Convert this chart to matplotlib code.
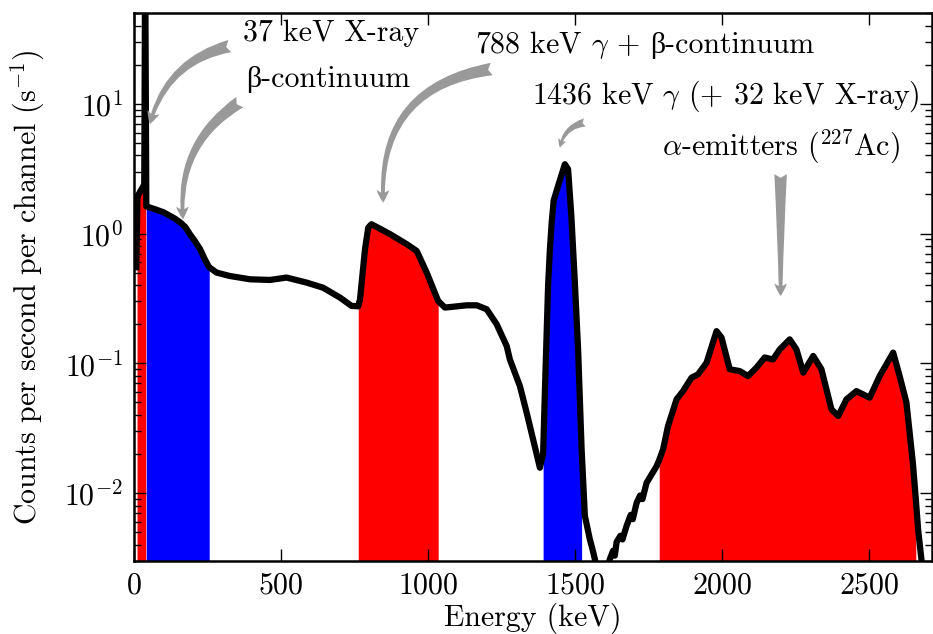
import matplotlib
matplotlib.use('Agg')
import matplotlib.pyplot as plt
from matplotlib.offsetbox import TextArea, HPacker, AnnotationBbox
import numpy as np

# spectrum (keV, counts/s/channel)
energy_kev = [8, 11, 12, 14, 30, 35, 38, 42, 71, 100, 122, 140, 157, 175, 190, 208, 225, 240, 253, 256,
              281, 326, 395, 463, 519, 587, 643, 701, 740, 763,
              769, 786, 797, 808, 871, 928, 962, 996, 1035,
              1058, 1086, 1132, 1166, 1200, 1234, 1268, 1279, 1313, 1336, 1358, 1381,
              1392, 1398, 1404, 1409, 1415, 1421, 1428, 1443, 1466, 1477, 1488, 1500, 1511, 1523,
              1534, 1551, 1560, 1568, 1580, 1600, 1619, 1630, 1636, 1642, 1655, 1662,
              1676, 1690, 1697, 1710, 1722, 1730, 1744, 1760, 1778, 1787,
              1800, 1817, 1846, 1868, 1897, 1919, 1948, 1982, 1999, 2027, 2061, 2089,
              2118, 2146, 2174, 2197, 2231, 2254, 2277, 2311, 2339, 2373, 2396, 2424,
              2458, 2503, 2537, 2583, 2605, 2628, 2650, 2660, 2668, 2679, 2700]
counts = [0.55, 1.5, 1.9, 1.97, 2.28, 2.4, 150, 1.62, 1.54, 1.46, 1.37, 1.30, 1.22, 1.12, 0.99, 0.87, 0.757, 0.64, 0.563, 0.55,
          0.50, 0.471, 0.444, 0.439, 0.458, 0.419, 0.383, 0.321, 0.277, 0.275,
          0.311, 0.757, 1.11, 1.18, 0.99, 0.828, 0.734, 0.50, 0.302,
          0.269, 0.273, 0.28, 0.28, 0.261, 0.20, 0.136, 0.107, 0.0668, 0.0417, 0.0259, 0.0157,
          0.02, 0.06, 0.17, 0.40, 0.75, 1.2, 1.8, 2.33, 3.42, 3.13, 1.37, 0.419, 0.128, 0.0217,
          0.0067, 0.0044, 0.0037, 0.0031, 0.0024, 0.002, 0.0031, 0.0036, 0.0033, 0.0042, 0.0047, 0.0044,
          0.0056, 0.0068, 0.0063, 0.0084, 0.0096, 0.0090, 0.012, 0.0138, 0.0161, 0.018,
          0.0217, 0.0329, 0.0528, 0.0611, 0.0776, 0.0822, 0.101, 0.177, 0.158, 0.090, 0.0872, 0.0798,
          0.0927, 0.111, 0.107, 0.128, 0.153, 0.128, 0.0848, 0.114, 0.090, 0.0442, 0.0393, 0.0528,
          0.0611, 0.0544, 0.0798, 0.121, 0.0798, 0.05, 0.0171, 0.009, 0.0052, 0.0031, 0.0015]

# shaded windows
window_lo = [12, 42, 763, 1392, 1787]
window_hi = [42, 256, 1035, 1523, 2660]
window_colors = ['#ff0000', '#0000ff', '#ff0000', '#0000ff', '#ff0000']

labels = ['37 keV X-ray', 'β-continuum', r'788 keV $\gamma$ + ',
          r'1436 keV $\gamma$ (+ 32 keV X-ray)', r'$\alpha$-emitters ($^{227}$Ac)']

FAMILY = ['cmr10', 'Liberation Serif']
plt.rcParams['font.family'] = FAMILY
plt.rcParams['mathtext.fontset'] = 'cm'
plt.rcParams['axes.unicode_minus'] = False
plt.rcParams['axes.formatter.use_mathtext'] = True
plt.rcParams['font.size'] = 21.5

fig = plt.figure(figsize=(9.33, 6.34), dpi=100)
ax = fig.add_axes([0.1436, 0.1151, 0.8553, 0.8644])

E = np.array(energy_kev, dtype=float)
c = np.array(counts, dtype=float)
for lo, hi, col in zip(window_lo, window_hi, window_colors):
    m = (E >= lo) & (E <= hi)
    ax.fill_between(E, c, 1e-4, where=m, color=col, linewidth=0, zorder=1)
ax.plot(E, c, color='k', lw=4.5, solid_joinstyle='round', zorder=2)

ax.set_yscale('log')
ax.set_xlim(0, 2715)
ax.set_ylim(0.003, 50)
ax.set_xticks([0, 500, 1000, 1500, 2000, 2500])
ax.tick_params(which='both', direction='in', top=True, right=True, width=1)
ax.tick_params(which='major', length=8.5, pad=8)
ax.tick_params(which='minor', length=5)
for s in ax.spines.values():
    s.set_linewidth(1.8)
ax.set_xlabel('Energy (keV)', labelpad=2)
ax.set_ylabel(r'Counts per second per channel (s$^{-1}$)', labelpad=12)

# annotation texts
ax.text(371, 30.4, labels[0], ha='left', va='baseline')
ax.text(383, 13.4, labels[1], ha='left', va='baseline')
# mathtext can't show an upright beta, so this one is built from two pieces
pieces = HPacker(children=[TextArea(labels[2], textprops=dict(size=21.5)),
                           TextArea('β-continuum', textprops=dict(size=21.5, family=FAMILY))],
                 align='baseline', pad=0, sep=6)
ab = AnnotationBbox(pieces, (1160, 21.5), xycoords='data', box_alignment=(0, 0),
                    frameon=False, pad=0)
ax.add_artist(ab)
ax.text(1353, 9.93, labels[3], ha='left', va='baseline')
ax.text(1795, 3.97, labels[4], ha='left', va='baseline')


def arrow(head, tail, rad, w):
    ax.annotate('', xy=head, xytext=tail,
                arrowprops=dict(arrowstyle='fancy,head_length=%g,head_width=%g,tail_width=%g' % (w, w, w),
                                connectionstyle='arc3,rad=%g' % rad, color='0.6', lw=0,
                                shrinkA=0, shrinkB=0, mutation_scale=20))


arrow((54, 6.96), (326, 27.8), 0.3, 0.45)
arrow((167, 1.29), (360, 10.3), 0.3, 0.45)
arrow((848, 1.73), (1217, 18.5), 0.45, 0.45)
arrow((1449, 4.6), (1534, 7.17), 0.33, 0.3)
arrow((2200, 0.33), (2200, 2.87), 0.0, 0.45)

fig.savefig('out.png', dpi=100)
